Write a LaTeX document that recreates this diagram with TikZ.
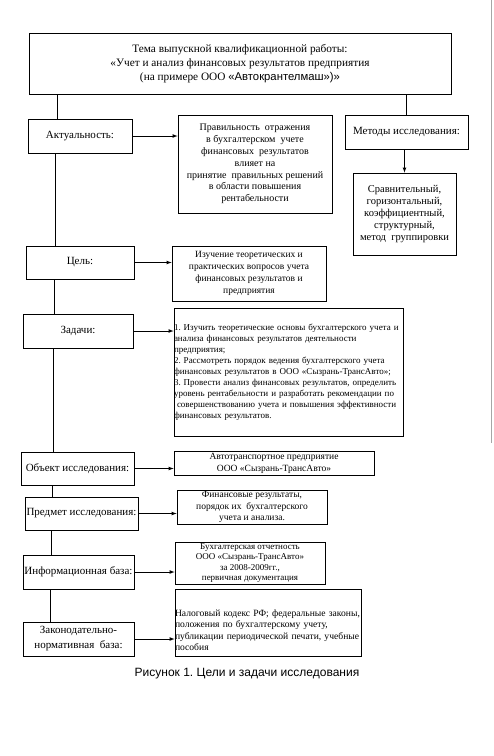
\documentclass[tikz,border=0pt]{standalone}
\usepackage{fontspec}
\setmainfont{Liberation Serif}
\newfontfamily\arialfont{Liberation Sans}
\usetikzlibrary{arrows}
\frenchspacing

\begin{document}
\begin{tikzpicture}[x=1pt, y=-1pt, box/.style={draw, line width=0.8pt, inner sep=1pt, align=center, font=\fontsize{10}{11.8}\selectfont}, lbl/.style={box, font=\fontsize{11}{14}\selectfont}, link/.style={line width=0.7pt}, arr/.style={line width=0.7pt, -latex}]
	\useasboundingbox (0,0) rectangle (494,756);
	\draw [gray!70, line width=1pt] (491.8,0) -- (491.8,443);
	\node [box, minimum width=422pt, minimum height=61pt, font=\fontsize{11.3}{14}\selectfont] (tema) at (240,63.5) {Тема выпускной квалификационной работы:\\ «Учет и анализ финансовых результатов предприятия\\ (на примере ООО {\arialfont«Автокрантелмаш»)»}};
	\node [lbl, minimum width=104pt, minimum height=34pt] (akt) at (80,136) {Актуальность:};
	\node [box, minimum width=154pt, minimum height=98pt] (prav) at (255,164) {Правильность \ отражения\\ в бухгалтерском \ учете\\ финансовых \ результатов\\ влияет на\\ принятие \ правильных решений\\ в области повышения\\ рентабельности};
	\node [lbl, minimum width=123pt, minimum height=34pt] (met) at (406.5,132) {Методы исследования:};
	\node [box, minimum width=103pt, minimum height=82pt, font=\fontsize{10.5}{11.8}\selectfont] (srav) at (404.5,214) {Сравнительный,\\ горизонтальный,\\ коэффициентный,\\ структурный,\\ метод \ группировки};
	\node [lbl, minimum width=108pt, minimum height=33pt] (cel) at (80,262.5) {Цель:};
	\node [box, minimum width=154pt, minimum height=55pt, font=\fontsize{9.5}{12}\selectfont] (izuch) at (249,273.5) {Изучение теоретических и\\ практических вопросов учета\\ финансовых результатов и\\ предприятия};
	\node [lbl, minimum width=110pt, minimum height=34pt] (zad) at (78,331) {Задачи:};
	\node [box, inner sep=0pt, minimum width=229pt, minimum height=128pt, text width=229pt, align=left, font=\fontsize{9}{11}\selectfont] (zadt) at (288.5,372) {1. Изучить теоретические основы бухгалтерского учета и\\ анализа финансовых результатов деятельности\\ предприятия;\\ 2. Рассмотреть порядок ведения бухгалтерского учета\\ финансовых результатов в ООО «Сызрань-ТрансАвто»;\\ 3. Провести анализ финансовых результатов, определить\\ уровень рентабельности и разработать рекомендации по\\ \ совершенствованию учета и повышения эффективности\\ финансовых результатов.};
	\node [lbl, minimum width=113pt, minimum height=33pt] (obj) at (77.5,468.5) {Объект исследования:};
	\node [box, minimum width=200pt, minimum height=24pt, font=\fontsize{9.5}{12}\selectfont] (avto) at (274,463) {Автотранспортное предприятие\\ ООО «Сызрань-ТрансАвто»};
	\node [lbl, minimum width=113pt, minimum height=33pt] (pred) at (81.5,513.5) {Предмет исследования:};
	\node [box, minimum width=150pt, minimum height=34pt, font=\fontsize{9.5}{11.5}\selectfont] (fin) at (252,507) {Финансовые результаты,\\ порядок их \ бухгалтерского\\ учета и анализа.};
	\node [lbl, minimum width=111pt, minimum height=34pt] (inf) at (78.5,572) {Информационная база:};
	\node [box, minimum width=150pt, minimum height=42pt, font=\fontsize{9}{10.5}\selectfont] (buh) at (250,563) {Бухгалтерская отчетность\\ ООО «Сызрань-ТрансАвто»\\ за 2008-2009гг.,\\ первичная документация};
	\node [lbl, minimum width=111pt, minimum height=34pt, font=\fontsize{11}{15}\selectfont] (zak) at (78.5,639) {Законодательно-\\ нормативная \ база:};
	\node [box, inner sep=0pt, minimum width=186pt, minimum height=67pt, text width=186pt, align=left, font=\fontsize{9.6}{11.3}\selectfont] (nal) at (268,622.5) {\rule{0pt}{22pt}Налоговый кодекс РФ; федеральные законы,\\ положения по бухгалтерскому учету,\\ публикации периодической печати, учебные\\ пособия};
	\node [font=\arialfont\fontsize{12}{14}\selectfont] (cap) at (247,674) {Рисунок 1. Цели и задачи исследования};
	\draw [link] (tema.south -| 57,0) -- (akt.north -| 57,0);
	\draw [link] (met.north |- tema.south) -- (met.north);
	\draw [arr] (met.south -| srav.north) -- (srav.north);
	\draw [link] (akt.south -| 55,0) -- (cel.north -| 55,0);
	\draw [link] (cel.south -| 54,0) -- (zad.north -| 54,0);
	\draw [link] (zad.south -| 53,0) -- (obj.north -| 53,0);
	\draw [link] (obj.south -| 52,0) -- (pred.north -| 52,0);
	\draw [link] (pred.south -| 51,0) -- (inf.north -| 51,0);
	\draw [link] (inf.south -| 50,0) -- (zak.north -| 50,0);
	\draw [arr] (akt.east) -- (akt.east -| prav.west);
	\draw [arr] (cel.east) -- (cel.east -| izuch.west);
	\draw [arr] (zad.east) -- (zad.east -| zadt.west);
	\draw [arr] (obj.east) -- (obj.east -| avto.west);
	\draw [arr] (pred.east) -- (pred.east -| fin.west);
	\draw [arr] (inf.east) -- (inf.east -| buh.west);
	\draw [arr] (zak.east) -- (zak.east -| nal.west);
\end{tikzpicture}
\end{document}
